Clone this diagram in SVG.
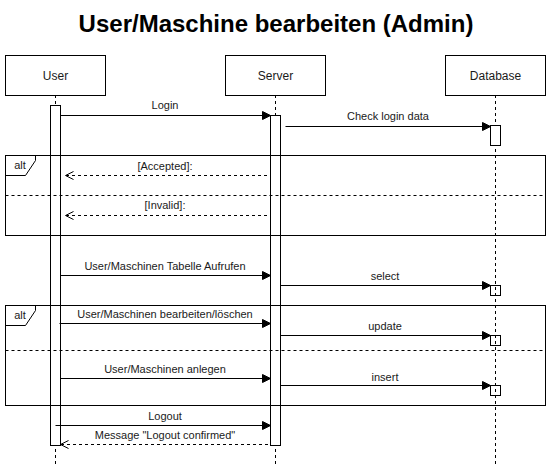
<svg xmlns="http://www.w3.org/2000/svg" width="552" height="471" viewBox="0 0 552 471">
  <defs>
    <marker id="block" markerUnits="userSpaceOnUse" markerWidth="10" markerHeight="10" viewBox="0 0 10 10" refX="9" refY="5" orient="auto">
      <path d="M1,1 L9,5 L1,9 Z" fill="#000" stroke="#000" stroke-width="1"/>
    </marker>
    <marker id="open" markerUnits="userSpaceOnUse" markerWidth="12" markerHeight="12" viewBox="0 0 12 12" refX="10" refY="6" orient="auto">
      <path d="M2,2 L10,6 L2,10" fill="none" stroke="#000" stroke-width="1"/>
    </marker>
  </defs>
  <style>
    .box { fill: #fff; stroke: #000; stroke-width: 1; }
    .life { stroke: #000; stroke-width: 1; stroke-dasharray: 3 3; fill: none; }
    .act { fill: #fff; stroke: #000; stroke-width: 1; }
    .actn { fill: none; stroke: #000; stroke-width: 1; }
    .frame { fill: none; stroke: #000; stroke-width: 1; }
    .sep { stroke: #000; stroke-width: 1; stroke-dasharray: 3 3; fill: none; }
    .msg { stroke: #000; stroke-width: 1; fill: none; marker-end: url(#block); }
    .ret { stroke: #000; stroke-width: 1; fill: none; stroke-dasharray: 3 3; marker-end: url(#open); }
    text { font-family: "Liberation Sans", Arial, Helvetica, sans-serif; fill: #1a1a1a; }
    .lbl { font-size: 11px; text-anchor: middle; }
    .actor { font-size: 12px; text-anchor: middle; }
    .title { font-size: 24px; font-weight: bold; text-anchor: middle; fill: #000; }
  </style>
  <rect width="552" height="471" fill="#fff"/>
  <text class="title" x="276" y="32">User/Maschine bearbeiten (Admin)</text>

  <g id="lifelines">
    <line class="life" x1="55.5" y1="95" x2="55.5" y2="466"/>
    <line class="life" x1="275.5" y1="95" x2="275.5" y2="466"/>
    <line class="life" x1="495.5" y1="95" x2="495.5" y2="466"/>
  </g>

  <g id="user">
    <rect class="box" x="5.5" y="55.5" width="100" height="40"/>
    <text class="actor" x="55.5" y="79.5">User</text>
  </g>
  <g id="server">
    <rect class="box" x="225.5" y="55.5" width="100" height="40"/>
    <text class="actor" x="275.5" y="79.5">Server</text>
  </g>
  <g id="database">
    <rect class="box" x="445.5" y="55.5" width="100" height="40"/>
    <text class="actor" x="495.5" y="79.5">Database</text>
  </g>

  <g id="activations">
    <rect class="act" x="50.5" y="105.5" width="10" height="340"/>
    <rect class="act" x="270.5" y="115.5" width="10" height="330"/>
    <rect class="act" x="490.5" y="125.5" width="10" height="20"/>
    <rect class="actn" x="490.5" y="285.5" width="10" height="10"/>
    <rect class="actn" x="490.5" y="335.5" width="10" height="10"/>
    <rect class="actn" x="490.5" y="385.5" width="10" height="10"/>
  </g>

  <g id="alt1">
    <rect class="frame" x="5.5" y="155.5" width="540" height="80"/>
    <path class="frame" d="M5.5,175.5 L25.5,175.5 L35.5,160.5 L35.5,155.5"/>
    <text x="20" y="168.5" font-size="11" text-anchor="middle">alt</text>
    <line class="sep" x1="5.5" y1="195.5" x2="545.5" y2="195.5"/>
  </g>

  <g id="alt2">
    <rect class="frame" x="5.5" y="305.5" width="540" height="100"/>
    <path class="frame" d="M5.5,325.5 L25.5,325.5 L35.5,310.5 L35.5,305.5"/>
    <text x="20" y="318.5" font-size="11" text-anchor="middle">alt</text>
    <line class="sep" x1="5.5" y1="350.5" x2="545.5" y2="350.5"/>
  </g>

  <g id="connectors">
    <line class="msg" x1="60.5" y1="115.5" x2="270.5" y2="115.5"/>
    <text class="lbl" x="165" y="109">Login</text>

    <line class="msg" x1="285.5" y1="126.5" x2="490.5" y2="126.5"/>
    <text class="lbl" x="388" y="120">Check login data</text>

    <line class="ret" x1="267" y1="175.5" x2="65.5" y2="175.5"/>
    <text class="lbl" x="165" y="170">[Accepted]:</text>

    <line class="ret" x1="267" y1="215.5" x2="65.5" y2="215.5"/>
    <text class="lbl" x="165" y="209">[Invalid]:</text>

    <line class="msg" x1="60.5" y1="275.5" x2="270.5" y2="275.5"/>
    <text class="lbl" x="165" y="270">User/Maschinen Tabelle Aufrufen</text>

    <line class="msg" x1="280.5" y1="285.5" x2="490.5" y2="285.5"/>
    <text class="lbl" x="385" y="280">select</text>

    <line class="msg" x1="59.5" y1="323.5" x2="270.5" y2="323.5"/>
    <text class="lbl" x="165" y="318">User/Maschinen bearbeiten/löschen</text>

    <line class="msg" x1="280.5" y1="335.5" x2="490.5" y2="335.5"/>
    <text class="lbl" x="385" y="330">update</text>

    <line class="msg" x1="60.5" y1="378.5" x2="270.5" y2="378.5"/>
    <text class="lbl" x="165" y="373">User/Maschinen anlegen</text>

    <line class="msg" x1="280.5" y1="385.5" x2="490.5" y2="385.5"/>
    <text class="lbl" x="385" y="381">insert</text>

    <line class="msg" x1="55.5" y1="425.5" x2="270.5" y2="425.5"/>
    <text class="lbl" x="165" y="420">Logout</text>

    <line class="ret" x1="268" y1="444.5" x2="60.5" y2="444.5"/>
    <text class="lbl" x="165" y="439">Message "Logout confirmed"</text>
  </g>
</svg>
